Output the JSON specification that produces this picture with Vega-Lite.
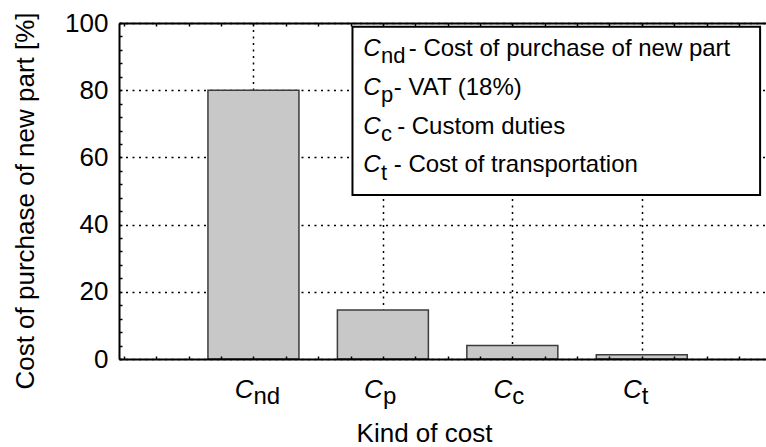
{
  "$schema": "https://vega.github.io/schema/vega-lite/v6.json",
  "width": 647,
  "height": 336,
  "autosize": {"type": "none"},
  "padding": {"left": 119, "top": 23, "right": 0, "bottom": 88},
  "datasets": {
    "costs": [
      {"kind": "nd", "n": 1, "value": 80},
      {"kind": "p", "n": 2, "value": 14.6},
      {"kind": "c", "n": 3, "value": 4.0},
      {"kind": "t", "n": 4, "value": 1.3}
    ],
    "legend": [
      {"sub": "nd", "desc": "- Cost of purchase of new part"},
      {"sub": "p", "desc": "- VAT (18%)"},
      {"sub": "c", "desc": "- Custom duties"},
      {"sub": "t", "desc": "- Cost of transportation"}
    ]
  },
  "data": {"name": "costs"},
  "resolve": {"axis": {"x": "independent", "y": "independent"}},
  "layer": [
    {
      "mark": {"type": "bar", "orient": "vertical", "width": 91, "fill": "#c8c8c8", "stroke": "#3c3c3c", "strokeWidth": 1.5},
      "encoding": {
        "x": {
          "field": "n", "type": "quantitative",
          "scale": {"domain": [0, 4.921], "nice": false, "zero": false},
          "axis": {
            "orient": "bottom", "values": [1, 2, 3, 4], "grid": true, "gridDash": [2, 4.5], "gridWidth": 1.5, "gridColor": "black", "gridOpacity": 1,
            "ticks": false, "labels": false, "domain": false,
            "title": "Kind of cost", "titleX": 305, "titleY": 82.5, "titleBaseline": "alphabetic", "titleAlign": "center", "titleAnchor": null, "zindex": 0
          }
        },
        "y": {
          "field": "value", "type": "quantitative",
          "scale": {"domain": [0, 100], "nice": false},
          "axis": {
            "orient": "left", "values": [0, 20, 40, 60, 80, 100], "grid": true, "gridDash": [2, 4.5], "gridWidth": 1.5, "gridColor": "black", "gridOpacity": 1,
            "ticks": false, "labels": true, "labelPadding": 11, "domain": false,
            "title": "Cost of purchase of new part [%]", "titleX": -85.5, "titleY": 177.5, "titleAngle": -90, "titleBaseline": "alphabetic", "titleAlign": "center", "titleAnchor": null, "zindex": 0
          }
        }
      }
    },
    {
      "mark": {"type": "point", "opacity": 0},
      "encoding": {
        "x": {
          "field": "n", "type": "quantitative",
          "axis": {
            "orient": "bottom", "values": [0, 0.25, 0.5, 0.75, 1, 1.25, 1.5, 1.75, 2, 2.25, 2.5, 2.75, 3, 3.25, 3.5, 3.75, 4, 4.25, 4.5, 4.75],
            "ticks": true, "tickSize": -3, "tickWidth": 1.5, "tickColor": "black", "labels": false, "grid": false,
            "domain": true, "domainWidth": 2, "domainColor": "black", "title": null, "zindex": 1
          }
        },
        "y": {
          "field": "value", "type": "quantitative",
          "axis": {
            "orient": "left", "values": [0, 4, 8, 12, 16, 20, 24, 28, 32, 36, 40, 44, 48, 52, 56, 60, 64, 68, 72, 76, 80, 84, 88, 92, 96, 100],
            "ticks": true, "tickSize": -3, "tickWidth": 1.5, "tickColor": "black", "labels": false, "grid": false,
            "domain": true, "domainWidth": 2, "domainColor": "black", "title": null, "zindex": 1
          }
        }
      }
    },
    {
      "mark": {"type": "point", "opacity": 0},
      "encoding": {
        "x": {
          "field": "n", "type": "quantitative",
          "axis": {
            "orient": "top", "values": [0, 0.25, 0.5, 0.75, 1, 1.25, 1.5, 1.75, 2, 2.25, 2.5, 2.75, 3, 3.25, 3.5, 3.75, 4, 4.25, 4.5, 4.75],
            "ticks": true, "tickSize": -3, "tickWidth": 1.5, "tickColor": "black", "labels": false, "grid": false,
            "domain": true, "domainWidth": 2, "domainColor": "black", "title": null, "zindex": 1
          }
        },
        "y": {"field": "value", "type": "quantitative", "axis": null}
      }
    },
    {
      "mark": {"type": "text", "text": "C", "fontStyle": "italic", "fontSize": 26, "align": "right", "baseline": "alphabetic", "dx": 0, "color": "black"},
      "encoding": {
        "x": {"field": "n", "type": "quantitative", "axis": null},
        "y": {"datum": -11.6, "axis": null}
      }
    },
    {
      "mark": {"type": "text", "fontSize": 24, "align": "left", "baseline": "alphabetic", "dx": 0, "dy": 6, "color": "black"},
      "encoding": {
        "x": {"field": "n", "type": "quantitative", "axis": null},
        "y": {"datum": -11.6, "axis": null},
        "text": {"field": "kind"}
      }
    },
    {
      "data": {"values": [{}]},
      "mark": {"type": "rect", "fill": "white", "stroke": "black", "strokeWidth": 2},
      "encoding": {
        "x": {"datum": 1.765, "axis": null},
        "x2": {"datum": 4.914},
        "y": {"datum": 98.9, "axis": null},
        "y2": {"datum": 48.8}
      }
    },
    {
      "data": {"name": "legend"},
      "transform": [{"filter": "datum.sub === 'nd'"}],
      "encoding": {"y": {"datum": 90.27, "axis": null}},
      "layer": [
        {"mark": {"type": "text", "text": "C", "fontStyle": "italic", "fontSize": 24, "align": "left", "baseline": "alphabetic", "color": "black"}, "encoding": {"x": {"datum": 1.848, "axis": null}}},
        {"mark": {"type": "text", "fontSize": 22, "align": "left", "baseline": "alphabetic", "dy": 7.5, "color": "black"}, "encoding": {"x": {"datum": 1.985, "axis": null}, "text": {"field": "sub"}}},
        {"mark": {"type": "text", "fontSize": 24, "align": "left", "baseline": "alphabetic", "color": "black"}, "encoding": {"x": {"datum": 2.2, "axis": null}, "text": {"field": "desc"}}}
      ]
    },
    {
      "data": {"name": "legend"},
      "transform": [{"filter": "datum.sub === 'p'"}],
      "encoding": {"y": {"datum": 78.72, "axis": null}},
      "layer": [
        {"mark": {"type": "text", "text": "C", "fontStyle": "italic", "fontSize": 24, "align": "left", "baseline": "alphabetic", "color": "black"}, "encoding": {"x": {"datum": 1.848, "axis": null}}},
        {"mark": {"type": "text", "fontSize": 22, "align": "left", "baseline": "alphabetic", "dy": 7.5, "color": "black"}, "encoding": {"x": {"datum": 1.985, "axis": null}, "text": {"field": "sub"}}},
        {"mark": {"type": "text", "fontSize": 24, "align": "left", "baseline": "alphabetic", "color": "black"}, "encoding": {"x": {"datum": 2.084, "axis": null}, "text": {"field": "desc"}}}
      ]
    },
    {
      "data": {"name": "legend"},
      "transform": [{"filter": "datum.sub === 'c'"}],
      "encoding": {"y": {"datum": 67.02, "axis": null}},
      "layer": [
        {"mark": {"type": "text", "text": "C", "fontStyle": "italic", "fontSize": 24, "align": "left", "baseline": "alphabetic", "color": "black"}, "encoding": {"x": {"datum": 1.848, "axis": null}}},
        {"mark": {"type": "text", "fontSize": 22, "align": "left", "baseline": "alphabetic", "dy": 7.5, "color": "black"}, "encoding": {"x": {"datum": 1.985, "axis": null}, "text": {"field": "sub"}}},
        {"mark": {"type": "text", "fontSize": 24, "align": "left", "baseline": "alphabetic", "color": "black"}, "encoding": {"x": {"datum": 2.11, "axis": null}, "text": {"field": "desc"}}}
      ]
    },
    {
      "data": {"name": "legend"},
      "transform": [{"filter": "datum.sub === 't'"}],
      "encoding": {"y": {"datum": 55.51, "axis": null}},
      "layer": [
        {"mark": {"type": "text", "text": "C", "fontStyle": "italic", "fontSize": 24, "align": "left", "baseline": "alphabetic", "color": "black"}, "encoding": {"x": {"datum": 1.848, "axis": null}}},
        {"mark": {"type": "text", "fontSize": 22, "align": "left", "baseline": "alphabetic", "dy": 7.5, "color": "black"}, "encoding": {"x": {"datum": 1.985, "axis": null}, "text": {"field": "sub"}}},
        {"mark": {"type": "text", "fontSize": 24, "align": "left", "baseline": "alphabetic", "color": "black"}, "encoding": {"x": {"datum": 2.084, "axis": null}, "text": {"field": "desc"}}}
      ]
    }
  ],
  "config": {
    "view": {"stroke": null},
    "font": "Liberation Sans",
    "text": {"font": "Liberation Sans"},
    "axis": {
      "labelFont": "Liberation Sans", "titleFont": "Liberation Sans",
      "labelColor": "black", "titleColor": "black",
      "labelFontSize": 26, "titleFontSize": 26, "titleFontWeight": "normal"
    }
  }
}
